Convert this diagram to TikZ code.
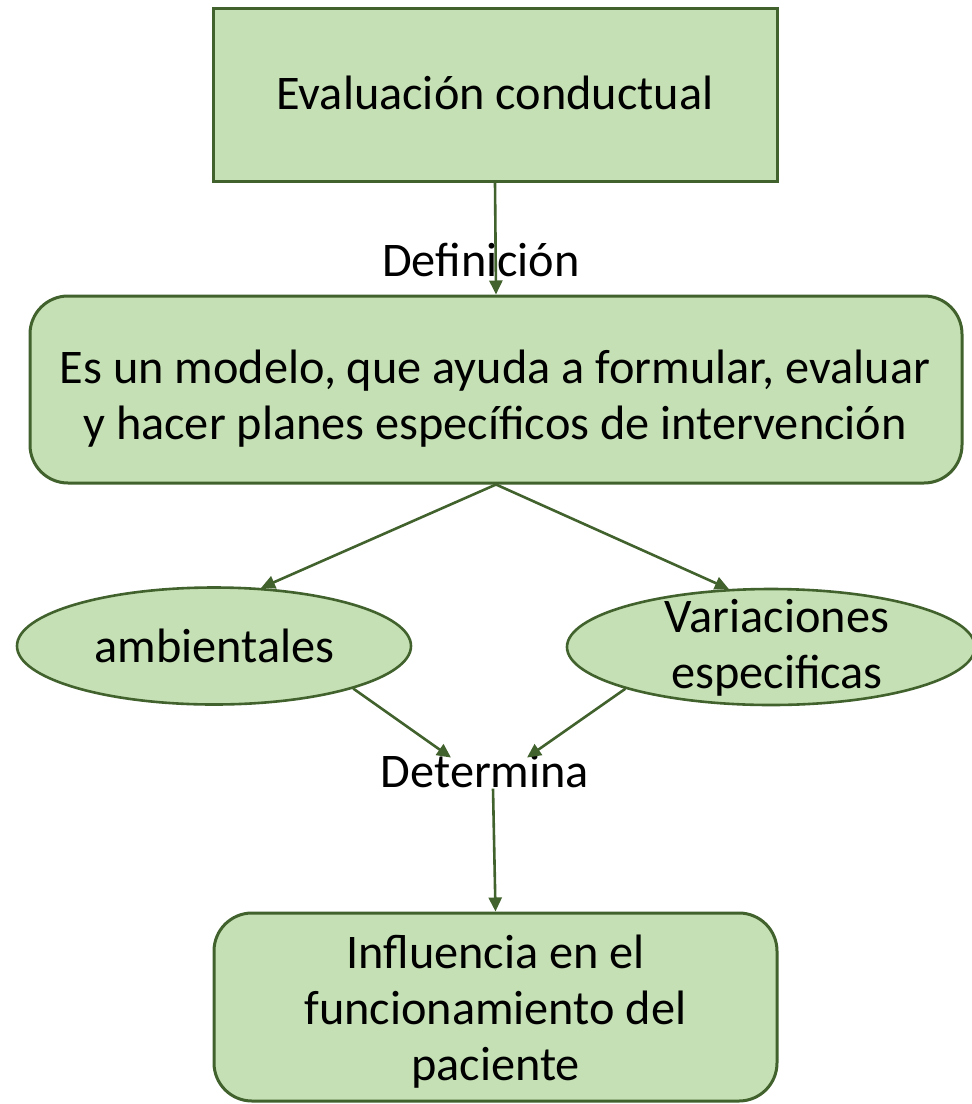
\documentclass[tikz,border=0pt]{standalone}
\usepackage{fontspec}
\setmainfont{Carlito}
\usetikzlibrary{arrows.meta,shapes.geometric,calc}
\definecolor{boxfill}{HTML}{C5E0B4}
\definecolor{boxline}{HTML}{41622C}
\tikzset{
  txt/.style={font=\fontsize{48.3}{56}\selectfont, align=center, inner sep=0pt, text=black},
  sqbox/.style={draw=boxline, fill=boxfill, line width=3pt, inner sep=0pt},
  rbox/.style={sqbox, rounded corners=38pt},
  ellbox/.style={ellipse, draw=boxline, fill=boxfill, line width=2.6pt, inner sep=0pt},
  arr/.style={draw=boxline, line width=2.6pt, -{Triangle[length=14pt,width=13pt]}}
}
\begin{document}
\begin{tikzpicture}[x=1pt,y=-1pt]
\useasboundingbox (0,0) rectangle (972,1104);
% shapes
\node[sqbox, minimum width=564pt, minimum height=173pt] (T) at (495,94.5) {};
\node[rbox, minimum width=932pt, minimum height=187pt] (M) at (496,389.5) {};
\node[ellbox, minimum width=394pt, minimum height=117pt] (L) at (214,646) {};
\node[ellbox, minimum width=408pt, minimum height=116pt] (R) at (771,647) {};
\node[rbox, minimum width=563pt, minimum height=188pt] (B) at (495.5,1007) {};
% texts (base = baseline of last line)
\node[txt, anchor=base] (Tt) at (495,109) {Evaluación conductual};
\node[txt, anchor=base] (Mt) at (495,439) {Es un modelo, que ayuda a formular, evaluar\\y hacer planes específicos de intervención};
\node[txt, anchor=base] (Lt) at (214.5,662) {ambientales};
\node[txt, anchor=base] (Rt) at (777,688) {Variaciones\\especificas};
\node[txt, anchor=base] (Bt) at (495.5,1080) {Influencia en el\\funcionamiento del\\paciente};
% connectors
\draw[arr] (T.south) -- (M.north);
\node[txt, anchor=base] (Def) at (481,276) {Definición};
\draw[arr] (M.south) -- (L.51);
\draw[arr] (M.south) -- (R.126);
\node[txt, anchor=base] (D) at (485,787) {Determina};
\draw[arr] (L.-17) -- ($(D.north)+(-34,4)$);
\draw[arr] (R.196) -- ($(D.north)+(42,4)$);
\draw[arr] ($(D.south)+(8,1)$) -- (B.north);
\end{tikzpicture}
\end{document}
